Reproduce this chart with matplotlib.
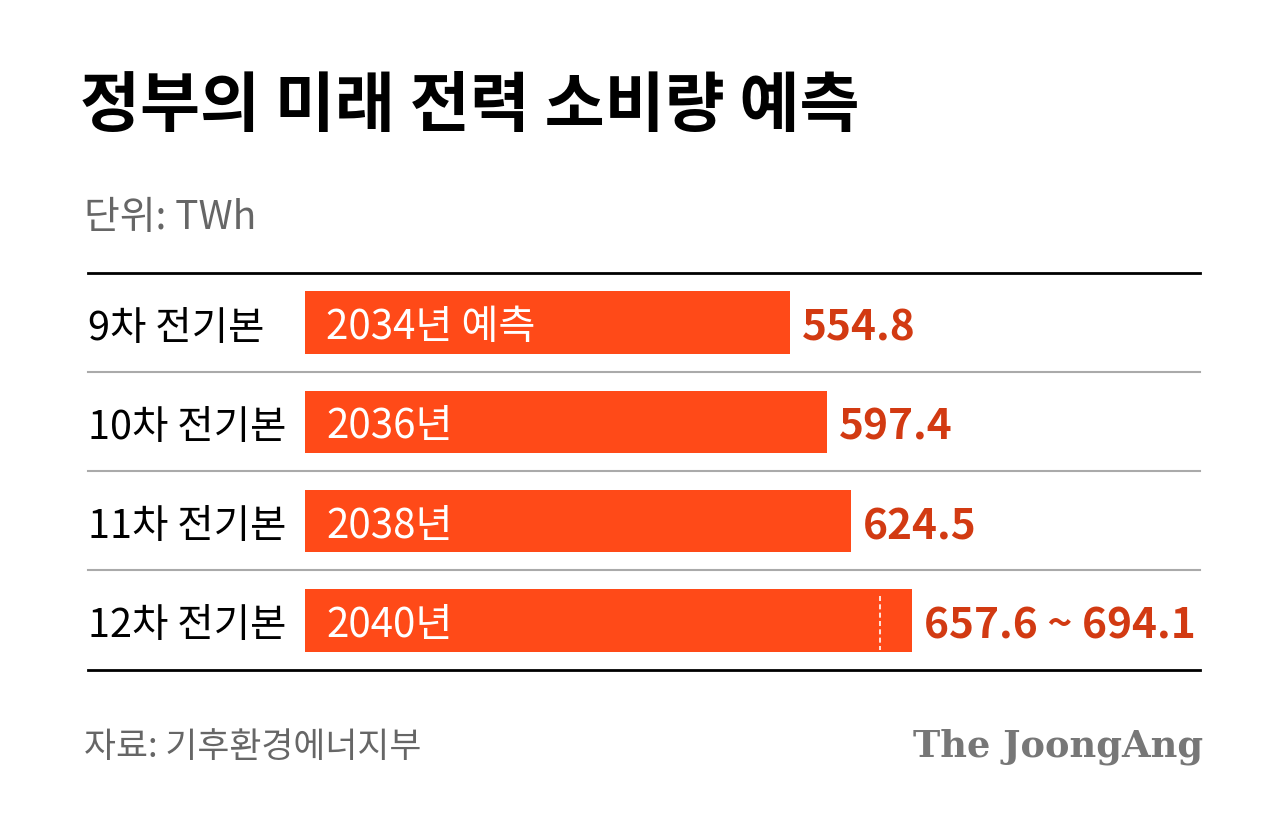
import matplotlib
matplotlib.use("Agg")
import matplotlib.pyplot as plt
from matplotlib.lines import Line2D

plans = ["9차 전기본", "10차 전기본", "11차 전기본", "12차 전기본"]
years = ["2034년 예측", "2036년", "2038년", "2040년"]
values = [554.8, 597.4, 624.5, 694.1]
low_2040 = 657.6
value_labels = ["554.8", "597.4", "624.5", "657.6 ~ 694.1"]

plt.rcParams['font.family'] = ['Noto Sans CJK KR', 'DejaVu Sans']
W, H = 1280, 827
fig = plt.figure(figsize=(12.8, 8.27), dpi=100)
fig.patch.set_facecolor("white")

def fx(px): return px / W
def fy(py): return 1 - py / H

ax = fig.add_axes([fx(305), fy(670), 800 * 0.874 / W, (670 - 273) / H])
ax.set_xlim(0, 800)
ax.set_ylim(4, 0)
ax.axis("off")
bar_c = "#FF4A18"
val_c = "#D23A12"
for i, (v, y, lab) in enumerate(zip(values, years, value_labels)):
    c = i + 0.5
    ax.barh(c, v, height=0.63, color=bar_c, left=0)
    ax.text(24, c + 0.05, y, color="white", fontsize=29, va="center", ha="left", fontweight="medium")
    ax.text(v + 14, c + 0.06, lab, color=val_c, fontsize=30.5, va="center", ha="left", fontweight="bold")
    fig.text(fx(88), fy(329 + i * 99), plans[i], fontsize=28.5, va="center", ha="left", fontweight="medium")
ax.plot([low_2040, low_2040], [3.5 - 0.25, 3.5 + 0.3], color="white", lw=1.2, ls=(0, (3, 2)))

for py, col, lw in [(273, "black", 2), (372, "#aaaaaa", 1.5), (471, "#aaaaaa", 1.5), (570, "#aaaaaa", 1.5), (670, "black", 2)]:
    fig.add_artist(Line2D([fx(88), fx(1200)], [fy(py), fy(py)], color=col, lw=lw))

fig.text(fx(80), fy(106), "정부의 미래 전력 소비량 예측", fontsize=47, fontweight="bold", va="center", ha="left")
fig.text(fx(84), fy(218), "단위: TWh", fontsize=28, color="#666666", va="center", ha="left")
fig.text(fx(84), fy(748), "자료: 기후환경에너지부", fontsize=25, color="#666666", va="center", ha="left")
fig.text(fx(1203), fy(747), "The JoongAng", fontsize=26.5, color="#777777", va="center", ha="right",
         family="DejaVu Serif", fontweight="bold")
fig.savefig("out.png", dpi=100, facecolor="white")
